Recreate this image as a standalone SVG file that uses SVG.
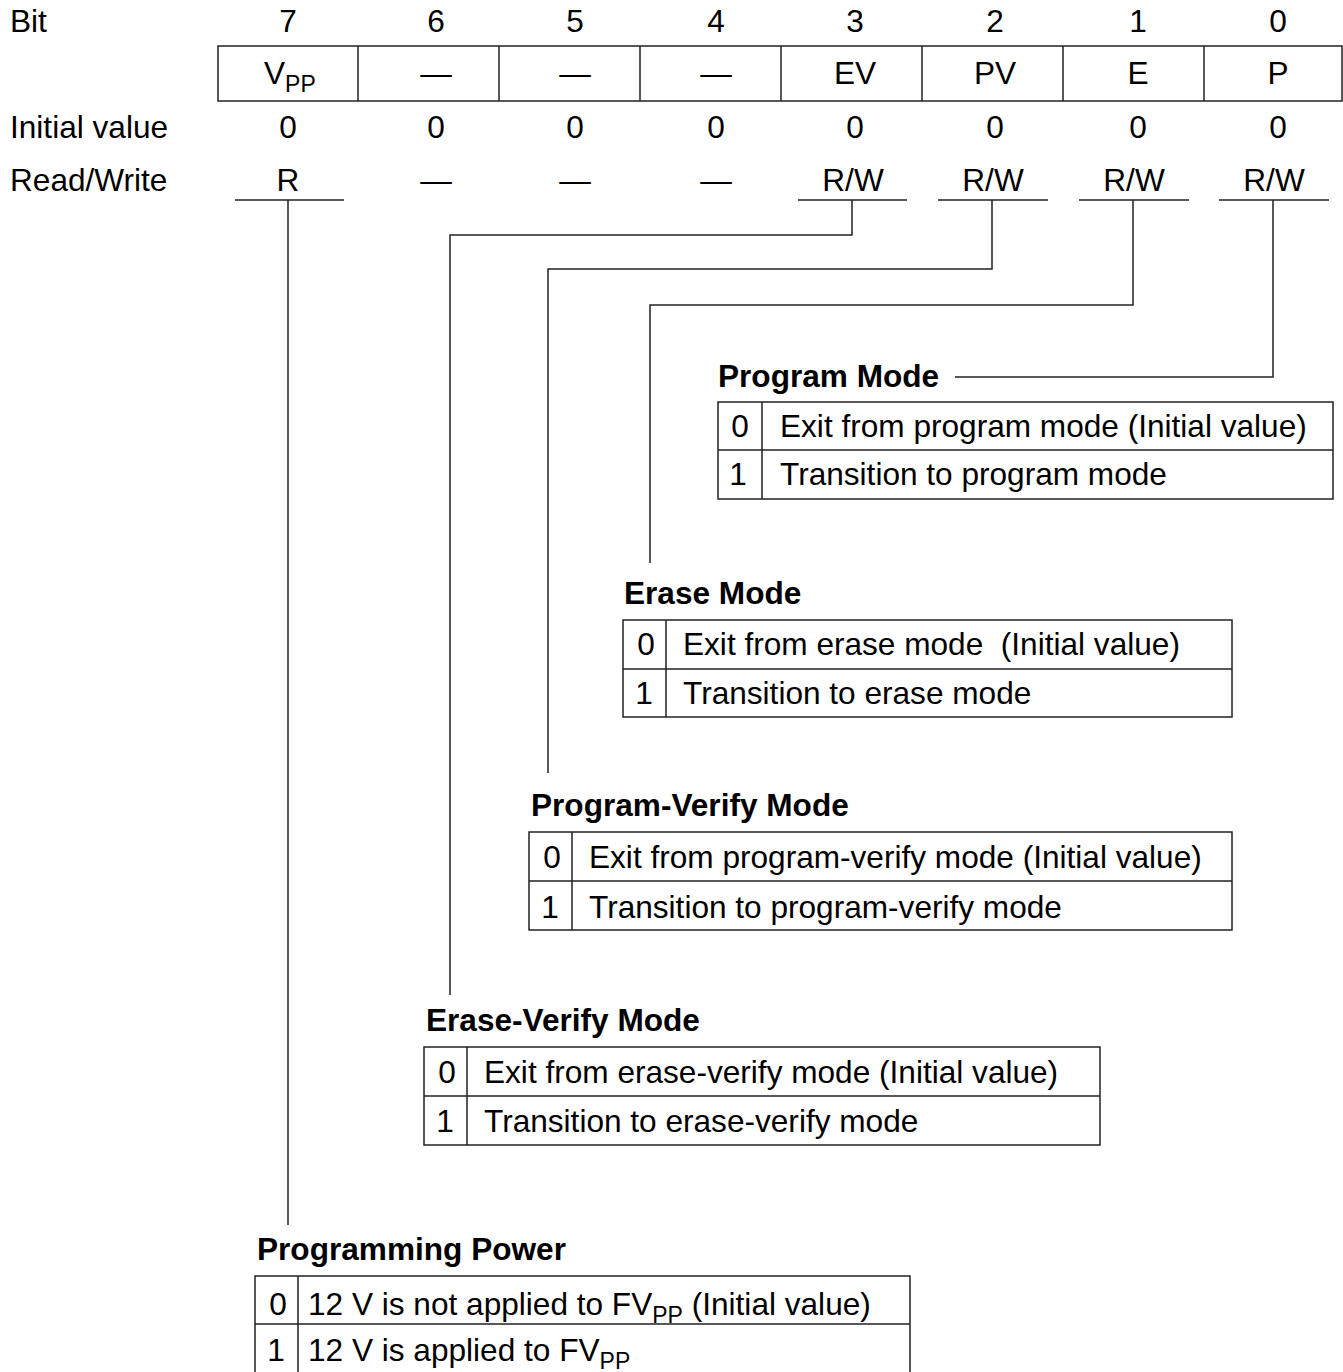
<svg xmlns="http://www.w3.org/2000/svg" width="1343" height="1372" viewBox="0 0 1343 1372">
<style>
text{font-family:"Liberation Sans",Arial,sans-serif;font-size:31.6px;fill:#000}
.c{text-anchor:middle}
.b{font-weight:bold}
.sub{font-size:23px}
.ln{fill:none;stroke:#222;stroke-width:1.5}
</style>
<rect width="1343" height="1372" fill="#fff"/>
<g id="register">
<text x="10" y="32">Bit</text>
<text class="c" x="288" y="32">7</text>
<text class="c" x="436" y="32">6</text>
<text class="c" x="575" y="32">5</text>
<text class="c" x="716" y="32">4</text>
<text class="c" x="855" y="32">3</text>
<text class="c" x="995" y="32">2</text>
<text class="c" x="1138" y="32">1</text>
<text class="c" x="1278" y="32">0</text>
<rect class="ln" x="218" y="46" width="1124" height="55"/>
<path class="ln" d="M358 46V101M499 46V101M640 46V101M781 46V101M922 46V101M1063 46V101M1204 46V101"/>
<text x="264" y="84">V<tspan class="sub" dy="8">PP</tspan></text>
<text class="c" x="436" y="84">—</text>
<text class="c" x="575" y="84">—</text>
<text class="c" x="716" y="84">—</text>
<text class="c" x="855" y="84">EV</text>
<text class="c" x="995" y="84">PV</text>
<text class="c" x="1138" y="84">E</text>
<text class="c" x="1278" y="84">P</text>
<text x="10" y="138">Initial value</text>
<text class="c" x="288" y="138">0</text>
<text class="c" x="436" y="138">0</text>
<text class="c" x="575" y="138">0</text>
<text class="c" x="716" y="138">0</text>
<text class="c" x="855" y="138">0</text>
<text class="c" x="995" y="138">0</text>
<text class="c" x="1138" y="138">0</text>
<text class="c" x="1278" y="138">0</text>
<text x="10" y="191">Read/Write</text>
<text class="c" x="288" y="191">R</text>
<text class="c" x="436" y="191">—</text>
<text class="c" x="575" y="191">—</text>
<text class="c" x="716" y="191">—</text>
<text class="c" x="853" y="191">R/W</text>
<text class="c" x="993" y="191">R/W</text>
<text class="c" x="1134" y="191">R/W</text>
<text class="c" x="1274" y="191">R/W</text>
<path class="ln" d="M235 200H344M798 200H907M938 200H1048M1079 200H1189M1219 200H1329"/>
</g>
<g id="connectors">
<path class="ln" d="M288 200V1225"/>
<path class="ln" d="M852 200V235H450V995"/>
<path class="ln" d="M992 200V269H548V773"/>
<path class="ln" d="M1133 200V305H650V563"/>
<path class="ln" d="M1273 200V377H955"/>
</g>
<g id="program-mode">
<text class="b" x="718" y="387">Program Mode</text>
<rect class="ln" x="718" y="402" width="615" height="97"/>
<path class="ln" d="M718 450H1333M762 402V499"/>
<text class="c" x="740" y="437">0</text>
<text x="780" y="437">Exit from program mode (Initial value)</text>
<text class="c" x="738" y="485">1</text>
<text x="780" y="485">Transition to program mode</text>
</g>
<g id="erase-mode">
<text class="b" x="624" y="604">Erase Mode</text>
<rect class="ln" x="623" y="620" width="609" height="97"/>
<path class="ln" d="M623 669H1232M666 620V717"/>
<text class="c" x="646" y="655">0</text>
<text x="683" y="655" xml:space="preserve">Exit from erase mode  (Initial value)</text>
<text class="c" x="644" y="704">1</text>
<text x="683" y="704">Transition to erase mode</text>
</g>
<g id="program-verify-mode">
<text class="b" x="531" y="816">Program-Verify Mode</text>
<rect class="ln" x="529" y="832" width="703" height="98"/>
<path class="ln" d="M529 881H1232M572 832V930"/>
<text class="c" x="552" y="868">0</text>
<text x="589" y="868">Exit from program-verify mode (Initial value)</text>
<text class="c" x="550" y="918">1</text>
<text x="589" y="918">Transition to program-verify mode</text>
</g>
<g id="erase-verify-mode">
<text class="b" x="426" y="1031">Erase-Verify Mode</text>
<rect class="ln" x="424" y="1047" width="676" height="98"/>
<path class="ln" d="M424 1096H1100M467 1047V1145"/>
<text class="c" x="447" y="1083">0</text>
<text x="484" y="1083">Exit from erase-verify mode (Initial value)</text>
<text class="c" x="445" y="1132">1</text>
<text x="484" y="1132">Transition to erase-verify mode</text>
</g>
<g id="programming-power">
<text class="b" x="257" y="1260">Programming Power</text>
<path class="ln" d="M255 1372V1276H910V1372M255 1324H910M298 1276V1372"/>
<text class="c" x="278" y="1315">0</text>
<text x="308" y="1315">12 V is not applied to FV<tspan class="sub" dy="8">PP</tspan><tspan dy="-8"> (Initial value)</tspan></text>
<text class="c" x="276" y="1361">1</text>
<text x="308" y="1361">12 V is applied to FV<tspan class="sub" dy="8">PP</tspan></text>
</g>
</svg>
